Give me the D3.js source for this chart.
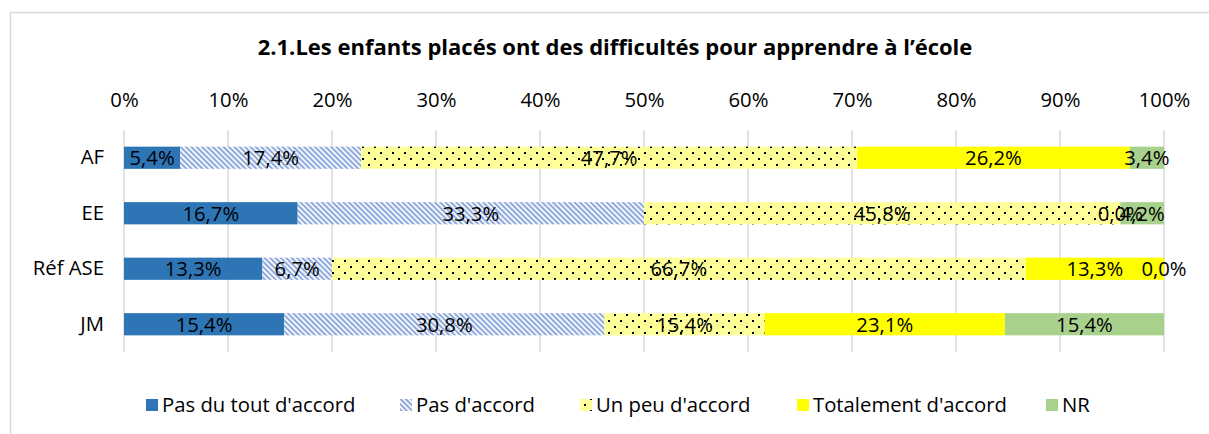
<!DOCTYPE html>
<html>
<head>
<meta charset="utf-8">
<script src="https://cdn.jsdelivr.net/npm/d3@7/dist/d3.min.js"></script>
<style>
  html, body { margin: 0; padding: 0; background: #fff; }
  svg { display: block; }
  text { font-family: "Open Sans", "Liberation Sans", sans-serif; fill: #000; }
</style>
</head>
<body>
<svg id="chart" width="1209" height="434"></svg>
<script>
// Survey answers per respondent group (percent)
const categories = ["AF", "EE", "Réf ASE", "JM"];
const seriesNames = ["Pas du tout d'accord", "Pas d'accord", "Un peu d'accord", "Totalement d'accord", "NR"];
const pasDuToutDAccord = [5.4, 16.7, 13.3, 15.4];
const pasDAccord = [17.4, 33.3, 6.7, 30.8];
const unPeuDAccord = [47.7, 45.8, 66.7, 15.4];
const totalementDAccord = [26.2, 0.0, 13.3, 23.1];
const nonRepondu = [3.4, 4.2, 0.0, 15.4];
const tickValues = [0, 10, 20, 30, 40, 50, 60, 70, 80, 90, 100];
const title = "2.1.Les enfants placés ont des difficultés pour apprendre à l’école";

const seriesValues = [pasDuToutDAccord, pasDAccord, unPeuDAccord, totalementDAccord, nonRepondu];

const svg = d3.select("#chart");
const W = 1209, H = 434;
const FS = "20.3px";

const fr = d3.formatLocale({ decimal: ",", thousands: " ", grouping: [3], currency: ["", "€"] });
const fmt1 = fr.format(".1f");

// Patterns for the hatched and dotted series
const defs = svg.append("defs");
const hatch = defs.append("pattern")
  .attr("id", "hatch").attr("patternUnits", "userSpaceOnUse")
  .attr("width", 3.8).attr("height", 10)
  .attr("patternTransform", "rotate(-45)");
hatch.append("rect").attr("width", 3.8).attr("height", 10).attr("fill", "#ffffff");
hatch.append("rect").attr("width", 2.1).attr("height", 10).attr("fill", "#8EA9DB");

const dots = defs.append("pattern")
  .attr("id", "dots").attr("patternUnits", "userSpaceOnUse")
  .attr("width", 12).attr("height", 12);
dots.append("rect").attr("width", 12).attr("height", 12).attr("fill", "#FFFF99");
dots.append("rect").attr("x", 2).attr("y", 2).attr("width", 2).attr("height", 2).attr("fill", "#000");
dots.append("rect").attr("x", 8).attr("y", 8).attr("width", 2).attr("height", 2).attr("fill", "#000");

const fills = ["#2E75B6", "url(#hatch)", "url(#dots)", "#FFFF00", "#A9D18E"];

// Outer chart frame
svg.append("rect")
  .attr("x", 10.5).attr("y", 12.5).attr("width", W + 10).attr("height", H + 10)
  .attr("fill", "none").attr("stroke", "#D9D9D9").attr("stroke-width", 1.5);

// Title
svg.append("text")
  .attr("x", 615).attr("y", 55)
  .attr("text-anchor", "middle")
  .style("font-weight", "bold").style("font-size", "22px")
  .text(title);

const x = d3.scaleLinear().domain([0, 100]).range([124, 1164]);
const y = d3.scaleBand().domain(categories).range([130, 352]).paddingInner(0.6).paddingOuter(0.3);

// Gridlines
svg.append("g").selectAll("line").data(tickValues).join("line")
  .attr("x1", d => x(d)).attr("x2", d => x(d))
  .attr("y1", 130).attr("y2", 352)
  .attr("stroke", "#D9D9D9").attr("stroke-width", 1.5);

// Top percentage axis
const axisTop = d3.axisTop(x).tickValues(tickValues).tickFormat(d => d + "%").tickSize(0).tickPadding(0);
const gx = svg.append("g").attr("transform", "translate(0,107)").call(axisTop);
gx.select(".domain").remove();
gx.selectAll("text").style("font-size", FS).style("font-family", "\"Open Sans\", sans-serif").attr("dy", 0).attr("y", 0);

// Category axis
const axisLeft = d3.axisLeft(y).tickSize(0).tickPadding(0);
const gy = svg.append("g").attr("transform", "translate(104,0)").call(axisLeft);
gy.select(".domain").remove();
gy.selectAll("text").style("font-size", FS).style("font-family", "\"Open Sans\", sans-serif");

// Stacked bars
const rows = categories.map((c, i) => {
  const r = { cat: c };
  seriesNames.forEach((s, k) => { r[s] = seriesValues[k][i]; });
  return r;
});
const stacked = d3.stack().keys(seriesNames)(rows);

const layers = svg.append("g").selectAll("g").data(stacked).join("g")
  .attr("fill", (d, k) => fills[k]);
layers.selectAll("rect").data(d => d).join("rect")
  .attr("x", d => x(d[0]))
  .attr("width", d => Math.max(0, x(Math.min(d[1], 100)) - x(d[0])))
  .attr("y", d => y(d.data.cat))
  .attr("height", y.bandwidth());

// Value labels
const labels = svg.append("g");
stacked.forEach(layer => {
  layer.forEach(d => {
    labels.append("text")
      .attr("x", x((d[0] + Math.min(d[1], 100)) / 2))
      .attr("y", y(d.data.cat) + y.bandwidth() / 2)
      .attr("dy", "0.36em")
      .attr("text-anchor", "middle")
      .style("font-size", FS)
      .text(fmt1(d.data[layer.key]) + "%");
  });
});

// Legend
const legendX = [146, 400, 580, 797, 1046];
const legend = svg.append("g");
seriesNames.forEach((s, k) => {
  legend.append("rect")
    .attr("x", legendX[k]).attr("y", 399).attr("width", 12).attr("height", 12)
    .attr("fill", fills[k]);
  legend.append("text")
    .attr("x", legendX[k] + 16).attr("y", 405).attr("dy", "0.36em")
    .style("font-size", FS)
    .text(s);
});
</script>
</body>
</html>
